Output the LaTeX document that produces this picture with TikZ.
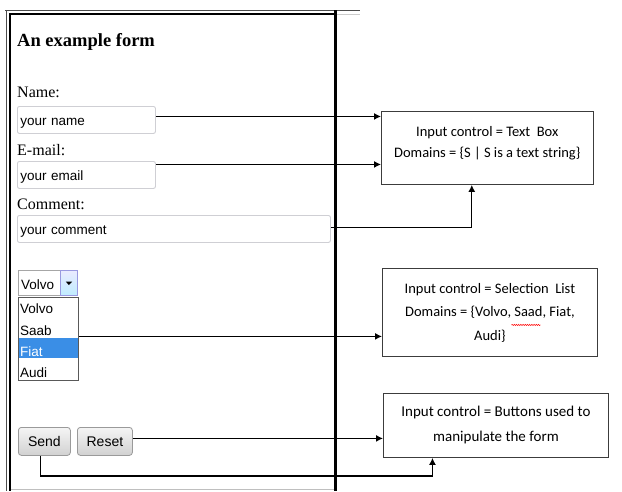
\documentclass[tikz,border=0pt]{standalone}
\usepackage{fontspec}
\setmainfont{Liberation Serif}
\newfontfamily\arialf{Liberation Sans}
\newfontfamily\calf{Carlito}
\usetikzlibrary{arrows.meta,shadings,shadows,decorations.pathmorphing,calc}

\definecolor{fieldgray}{HTML}{CFCFD4}
\definecolor{boxline}{HTML}{3C3C3C}
\definecolor{pickblue}{HTML}{3A8EE6}
\definecolor{btnline}{HTML}{9A9A9A}

\tikzset{
  formlabel/.style={anchor=base west, inner sep=0pt, font=\fontsize{16}{18}\selectfont},
  field/.style={draw=fieldgray, line width=0.9pt, rounded corners=2pt, anchor=north west,
    fill=white, inner xsep=3pt, align=left, text height=12pt, text depth=1pt,
    font=\arialf\fontsize{13.5}{15}\selectfont},
  infobox/.style={draw=boxline, line width=0.9pt, anchor=north west, align=center,
    font=\calf\fontsize{14.5}{21}\selectfont, fill=white,
    drop shadow={shadow xshift=0.8pt, shadow yshift=-0.8pt, opacity=0.25}},
  arr/.style={draw=black, line width=1.2pt, -{Latex[length=7pt,width=7pt]}},
  item/.style={anchor=base west, inner sep=0pt, font=\arialf\fontsize{13.5}{15}\selectfont},
  button/.style={draw=btnline, line width=0.8pt, rounded corners=3pt, anchor=north west,
    top color=white!96!black, bottom color=white!82!black, text height=11pt, text depth=1pt,
    font=\arialf\fontsize{14}{15}\selectfont},
  spellwave/.style={red, line width=0.5pt, decorate,
    decoration={snake, amplitude=0.6pt, segment length=2.2pt}}
}

% two or three centred lines with a given line distance
\newcommand{\boxlines}[2]{\parbox{205pt}{\centering\baselineskip=#1\relax #2\par}}

\begin{document}
\begin{tikzpicture}[x=1pt, y=-1pt]
  \useasboundingbox[fill=white] (0,0) rectangle (622,491);

  % frame around the form
  \draw[black!70, line width=0.8pt] (5,10) -- (360,10);
  \draw[black!70, line width=0.8pt] (6,10) -- (6,491);
  \draw[black, line width=2.6pt] (10,14) -- (335,14);
  \draw[black, line width=2.6pt] (10,13) -- (10,491);
  \draw[black, line width=3pt] (335,10) -- (335,491);
  \draw[black!20, line width=1pt] (337,14) -- (360,14);
  \draw[black!25, line width=0.8pt] (11,489) -- (334,489);

  % heading and labels
  \node[anchor=base west, inner sep=0pt, font=\bfseries\fontsize{18.5}{20}\selectfont] (title) at (17,46) {An example form};
  \node[formlabel] (lname) at (17,97) {Name:};
  \node[formlabel] (lmail) at (17,155) {E-mail:};
  \node[formlabel] (lcomm) at (17,209) {Comment:};

  % text fields
  \node[field, text width=132pt, minimum height=27pt] (namebox) at (17,106) {your name};
  \node[field, text width=132pt, minimum height=27pt] (mailbox) at (17,161) {your email};
  \node[field, text width=307pt, minimum height=27pt] (commbox) at (17,215) {your comment};

  % drop-down selector
  \node[draw=black!35, line width=0.8pt, anchor=north west, minimum width=59pt, minimum height=25pt,
        inner sep=0pt, fill=white] (select) at (18,270) {};
  \node[item] (selval) at (21,289) {Volvo};
  \node[draw=black!30!blue!40, line width=0.7pt, anchor=north east, minimum width=17pt, minimum height=25pt,
        inner sep=0pt, top color=blue!8, bottom color=blue!30!cyan!25] (ddbtn) at (select.north east) {};
  \fill[black] ($(ddbtn.center)+(-3.2,-1.2)$) -- ($(ddbtn.center)+(3.2,-1.2)$) -- ($(ddbtn.center)+(0,2.2)$) -- cycle;

  % open option list
  \node[draw=black!65, line width=0.8pt, anchor=north west, minimum width=60pt, minimum height=83pt,
        inner sep=0pt, fill=white, drop shadow={shadow xshift=0.8pt, shadow yshift=-0.8pt, opacity=0.3}] (list) at (18,297) {};
  \fill[pickblue] (18.5,338) rectangle (77.5,358);
  \node[item] (ivolvo) at (20,313) {Volvo};
  \node[item] (isaab)  at (20,335) {Saab};
  \node[item, text=white] (ifiat) at (20,356) {Fiat};
  \node[item] (iaudi)  at (20,377) {Audi};

  % buttons
  \node[button, minimum width=52pt, minimum height=28pt] (send) at (18,427) {Send};
  \node[button, minimum width=55pt, minimum height=28pt] (reset) at (77,427) {Reset};

  % description boxes (the strut in the first box lifts its text a little)
  \node[infobox, minimum width=211pt, minimum height=73pt] (box1) at (381,111)
    {\boxlines{20.5pt}{Input control = Text\ \ Box\\ Domains = \{S | S is a text string\}\rule[-12pt]{0pt}{1pt}}};
  \node[infobox, minimum width=215pt, minimum height=88pt] (box2) at (382,268)
    {\boxlines{23.5pt}{Input control = Selection\ \ List\\ Domains = \{Volvo, Saad, Fiat,\\ Audi\}}};
  \node[infobox, minimum width=225pt, minimum height=64pt, font=\calf\fontsize{15}{25}\selectfont] (box3) at (383,393)
    {\boxlines{25pt}{Input control = Buttons\ used to\\ manipulate the form}};

  % spell-check squiggle under the misspelt word
  \draw[spellwave] ($(box2.center)+(21.5,12.5)$) -- ($(box2.center)+(50.5,12.5)$);

  % connectors
  \coordinate (nameout) at ([yshift=3.5pt]namebox.east);
  \coordinate (mailout) at ([yshift=10.5pt]mailbox.east);
  \coordinate (commout) at ([yshift=1.5pt]commbox.east);
  \coordinate (box1in)  at ([xshift=-15.5pt]box1.south);
  \coordinate (listout) at ([yshift=2.5pt]list.east);
  \coordinate (resetout) at ([yshift=3pt]reset.east);
  \coordinate (sendout) at ([xshift=-4pt]send.south);
  \coordinate (box3in)  at ([xshift=-63.5pt]box3.south);

  \draw[arr] (nameout) -- (nameout -| box1.west);
  \draw[arr] (mailout) -- (mailout -| box1.west);
  \draw[arr] (commout) -| (box1in);
  \draw[arr] (listout) -- (listout -| box2.west);
  \draw[arr] (resetout) -- (resetout -| box3.west);
  \draw[arr] (sendout) |- ($(box3in)+(0,18)$) -- (box3in);
\end{tikzpicture}
\end{document}
